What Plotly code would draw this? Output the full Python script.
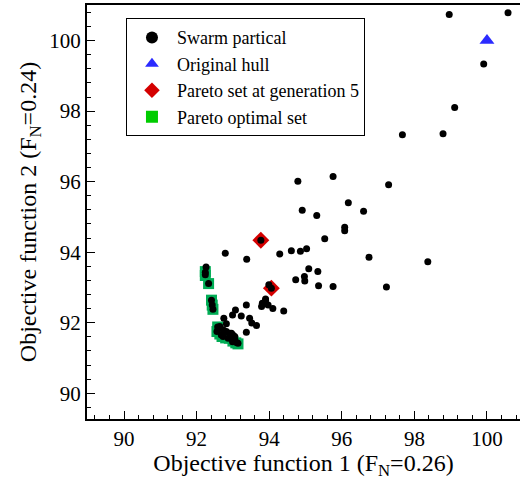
import plotly.graph_objects as go

# Swarm particles (objective 1, objective 2)
swarm_x = [98.96, 100.58, 99.91, 99.11, 97.67, 98.79, 97.29, 95.76, 94.79, 96.18,
           94.91, 95.31, 96.60, 96.08, 96.08, 95.53, 94.29, 94.61, 94.86, 95.03,
           96.75, 98.37, 97.23, 95.09, 95.34, 94.73, 94.97, 94.98, 95.36, 95.76,
           94.40, 93.77, 92.79, 93.38, 93.99, 94.06, 93.90, 93.37, 93.81, 93.90,
           93.79, 93.97, 94.10, 93.07, 92.99, 93.23, 92.75, 93.46, 93.52, 93.65,
           93.37, 92.26, 92.24, 92.24, 92.33, 92.41, 92.43, 92.45,
           92.64, 92.82, 92.56, 92.73, 92.82, 92.68, 92.91, 92.96, 93.00, 92.87,
           93.05, 92.99, 93.10, 93.14, 92.73, 92.58, 93.05]
swarm_y = [100.74, 100.79, 99.34, 98.10, 97.33, 97.36, 95.91, 96.15, 96.01, 95.40,
           95.19, 95.04, 95.16, 94.71, 94.61, 94.38, 93.95, 94.04, 94.03, 94.10,
           93.86, 93.73, 93.01, 93.53, 93.45, 93.22, 93.31, 93.18, 93.05, 93.03,
           92.33, 94.34, 93.97, 93.80, 93.08, 92.98, 92.67, 92.50, 92.55, 92.63,
           92.46, 92.50, 92.40, 92.36, 92.22, 92.19, 92.13, 92.13, 91.99, 91.92,
           91.73, 93.58, 93.43, 93.36, 93.11, 92.64, 92.50, 92.38,
           91.89, 91.97, 91.75, 91.80, 91.75, 91.65, 91.70, 91.70, 91.65, 91.56,
           91.56, 91.46, 91.44, 91.42, 91.61, 91.88, 91.61]

hull_x = [100.0]
hull_y = [100.0]

gen5_x = [93.77, 94.06]
gen5_y = [94.34, 92.98]

pareto_x = [92.24, 92.24, 92.33, 92.41, 92.43, 92.45, 92.58, 92.56, 92.64, 92.70,
            92.80, 92.90, 93.00, 93.08, 93.14]
pareto_y = [93.45, 93.34, 93.11, 92.64, 92.50, 92.38, 91.88, 91.75, 91.68, 91.61,
            91.57, 91.56, 91.48, 91.43, 91.40]

FONT = "Liberation Serif, Times New Roman, serif"

fig = go.Figure()
fig.add_trace(go.Scatter(x=pareto_x, y=pareto_y, mode="markers", showlegend=False,
                         marker=dict(symbol="square", size=11, color="#00ad55")))
fig.add_trace(go.Scatter(x=[None], y=[None], mode="markers", name="Pareto optimal set",
                         legendrank=4,
                         marker=dict(symbol="square", size=10, color="#00cc00")))
fig.add_trace(go.Scatter(x=gen5_x, y=gen5_y, mode="markers", name="Pareto set at generation 5",
                         legendrank=3,
                         marker=dict(symbol="diamond", size=13, color="#d40000")))
fig.add_trace(go.Scatter(x=hull_x, y=hull_y, mode="markers", name="Original hull",
                         legendrank=2,
                         marker=dict(symbol="triangle-up", size=13, color="#2b2bff")))
fig.add_trace(go.Scatter(x=swarm_x, y=swarm_y, mode="markers", name="Swarm partical",
                         legendrank=1,
                         marker=dict(symbol="circle", size=7, color="black")))

axis_common = dict(
    showgrid=False, zeroline=False, showline=True, linecolor="black", linewidth=2,
    ticks="inside", ticklen=8, tickwidth=1, tickcolor="black",
    dtick=2, tickfont=dict(family=FONT, size=21, color="black"),
    minor=dict(ticks="inside", ticklen=4, dtick=0.4, tickcolor="black", tickwidth=1),
)

fig.update_layout(
    width=520, height=480,
    margin=dict(l=87, r=0, t=5, b=61),
    plot_bgcolor="white", paper_bgcolor="white",
    font=dict(family=FONT, color="black"),
    xaxis=dict(range=[88.98, 100.91], mirror=True, tick0=90,
               title=dict(text="Objective function 1 (F<sub>N</sub>=0.26)",
                          font=dict(family=FONT, size=24), standoff=4),
               **axis_common),
    yaxis=dict(range=[89.27, 101.01], mirror=False, tick0=90,
               title=dict(text="Objective function 2 (F<sub>N</sub>=0.24)",
                          font=dict(family=FONT, size=24), standoff=6),
               **axis_common),
    legend=dict(x=0.09, y=0.968, xanchor="left", yanchor="top",
                bordercolor="black", borderwidth=1, bgcolor="white",
                font=dict(family=FONT, size=18, color="black"),
                itemwidth=40, itemsizing="constant", tracegroupgap=0),
)

fig.write_html("out.html")
